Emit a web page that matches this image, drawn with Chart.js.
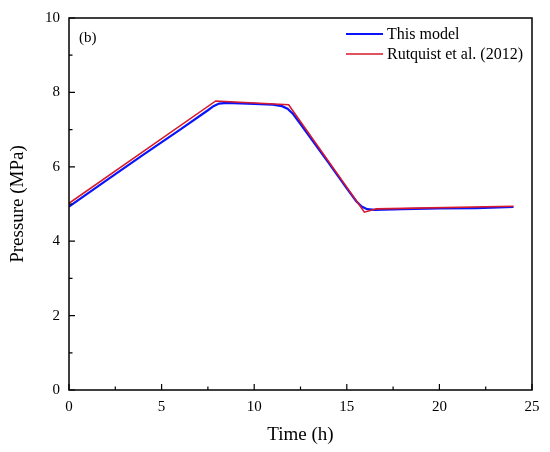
<!DOCTYPE html>
<html>
<head>
<meta charset="utf-8">
<script src="https://cdn.jsdelivr.net/npm/chart.js@4"></script>
<style>
  html, body { margin: 0; padding: 0; background: #fff; }
  #chart { display: block; }
</style>
</head>
<body>
<canvas id="chart" width="550" height="452"></canvas>
<script>
const modelTime = [0, 2, 4, 6, 7.5, 7.8, 8.1, 8.5, 10, 11, 11.5, 11.8, 12.1, 12.5, 14, 15, 15.5, 15.8, 16.1, 16.5, 18, 20, 22, 24];
const modelPressure = [4.93, 5.63, 6.32, 7.0, 7.52, 7.63, 7.7, 7.72, 7.69, 7.67, 7.63, 7.56, 7.42, 7.15, 6.12, 5.42, 5.08, 4.93, 4.86, 4.84, 4.86, 4.88, 4.89, 4.92];
const rutTime = [0, 7.92, 11.86, 15.95, 16.6, 24];
const rutPressure = [5.02, 7.77, 7.67, 4.78, 4.87, 4.94];
const xTicks = [0, 5, 10, 15, 20, 25];
const yTicks = [0, 2, 4, 6, 8, 10];

const serif = "'Liberation Serif', 'Times New Roman', serif";

function pairs(xs, ys) {
    return xs.map((x, i) => ({ x: x, y: ys[i] }));
}

// frame + inward ticks + legend + panel label
const decorations = {
    id: 'decorations',
    afterDraw(chart) {
        const ctx = chart.ctx;
        const a = chart.chartArea;
        const xs = chart.scales.x, ys = chart.scales.y;
        ctx.save();
        ctx.strokeStyle = '#000';
        ctx.lineWidth = 1.5;
        ctx.strokeRect(a.left, a.top, a.right - a.left, a.bottom - a.top);

        ctx.lineWidth = 1.2;
        ctx.beginPath();
        for (let v = 0; v <= 25; v += 2.5) {
            const px = xs.getPixelForValue(v);
            const len = (v % 5 === 0) ? 6 : 3.5;
            ctx.moveTo(px, a.bottom);
            ctx.lineTo(px, a.bottom - len);
        }
        for (let v = 0; v <= 10; v += 1) {
            const py = ys.getPixelForValue(v);
            const len = (v % 2 === 0) ? 6 : 3.5;
            ctx.moveTo(a.left, py);
            ctx.lineTo(a.left + len, py);
        }
        ctx.stroke();

        ctx.fillStyle = '#000';
        ctx.font = '15px ' + serif;
        ctx.textBaseline = 'middle';
        ctx.textAlign = 'left';
        ctx.fillText('(b)', a.left + 10, a.top + 20);

        ctx.font = '16px ' + serif;
        chart.data.datasets.forEach((ds, i) => {
            const y = 34 + i * 20;
            ctx.strokeStyle = ds.borderColor;
            ctx.lineWidth = ds.borderWidth;
            ctx.beginPath();
            ctx.moveTo(346, y);
            ctx.lineTo(383, y);
            ctx.stroke();
            ctx.fillText(ds.label, 387, y + 1);
        });
        ctx.restore();
    }
};

new Chart(document.getElementById('chart'), {
    type: 'line',
    data: {
        datasets: [
            {
                label: 'This model',
                data: pairs(modelTime, modelPressure),
                borderColor: 'rgb(10, 20, 250)',
                borderWidth: 2.2,
                pointRadius: 0,
                tension: 0,
                order: 1
            },
            {
                label: 'Rutquist et al. (2012)',
                data: pairs(rutTime, rutPressure),
                borderColor: 'rgb(215, 25, 45)',
                borderWidth: 1.6,
                pointRadius: 0,
                tension: 0,
                order: 0
            }
        ]
    },
    options: {
        responsive: false,
        animation: false,
        layout: { padding: { left: 0, right: 18, top: 16, bottom: 0 } },
        plugins: {
            legend: { display: false },
            tooltip: { enabled: false }
        },
        scales: {
            x: {
                type: 'linear',
                min: 0,
                max: 25,
                afterFit(scale) { scale.height = 62; },
                afterBuildTicks(scale) { scale.ticks = xTicks.map(v => ({ value: v })); },
                grid: { display: false, drawTicks: false },
                border: { display: false },
                ticks: { color: '#000', padding: 8, font: { family: serif, size: 15 } },
                title: {
                    display: true,
                    text: 'Time (h)',
                    color: '#000',
                    padding: { top: 4, bottom: 6 },
                    font: { family: serif, size: 19 }
                }
            },
            y: {
                type: 'linear',
                min: 0,
                max: 10,
                afterFit(scale) { scale.width = 69; },
                afterBuildTicks(scale) { scale.ticks = yTicks.map(v => ({ value: v })); },
                grid: { display: false, drawTicks: false },
                border: { display: false },
                ticks: { color: '#000', padding: 9, font: { family: serif, size: 15 } },
                title: {
                    display: true,
                    text: 'Pressure (MPa)',
                    color: '#000',
                    padding: { top: 7, bottom: 0 },
                    font: { family: serif, size: 19 }
                }
            }
        }
    },
    plugins: [decorations]
});
</script>
</body>
</html>
